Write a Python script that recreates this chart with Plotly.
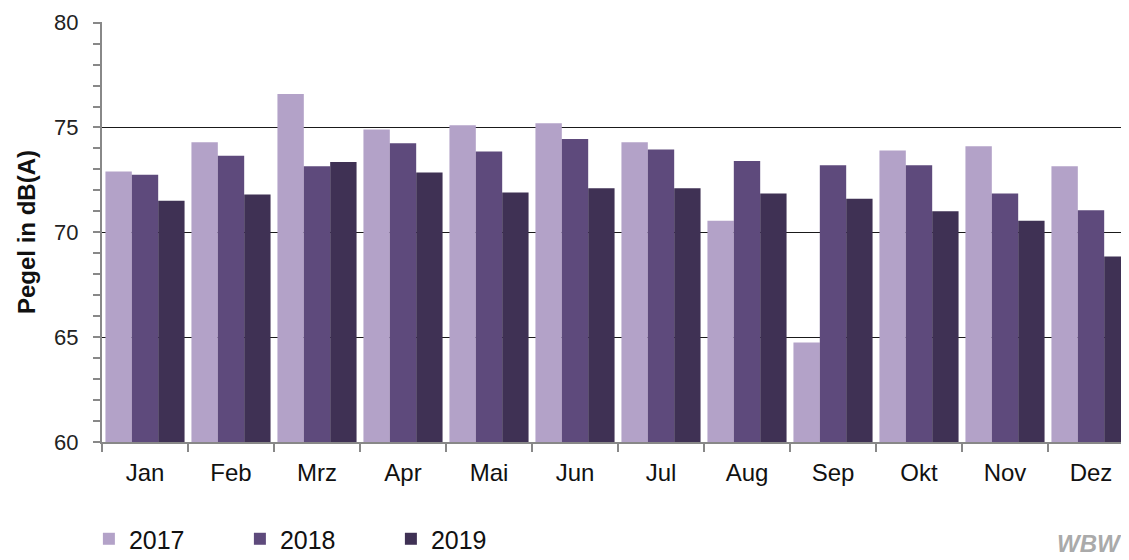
import plotly.graph_objects as go

months = ["Jan", "Feb", "Mrz", "Apr", "Mai", "Jun", "Jul", "Aug", "Sep", "Okt", "Nov", "Dez"]
v2017 = [72.9, 74.3, 76.6, 74.9, 75.1, 75.2, 74.3, 70.55, 64.75, 73.9, 74.1, 73.15]
v2018 = [72.75, 73.65, 73.15, 74.25, 73.85, 74.45, 73.95, 73.4, 73.2, 73.2, 71.85, 71.05]
v2019 = [71.5, 71.8, 73.35, 72.85, 71.9, 72.1, 72.1, 71.85, 71.6, 71.0, 70.55, 68.85]
series = [("2017", v2017, "#B3A2C8"), ("2018", v2018, "#5E4A7C"), ("2019", v2019, "#3F3154")]

fig = go.Figure()
for name, vals, col in series:
    fig.add_trace(go.Bar(x=months, y=vals, name=name, marker=dict(color=col, line=dict(width=0))))

font = "Liberation Sans, Arial, sans-serif"
fig.update_layout(
    width=1129, height=560,
    margin=dict(l=94, r=3, t=14, b=126, autoexpand=False),
    paper_bgcolor="white", plot_bgcolor="white",
    barmode="group", bargap=0.08, bargroupgap=0,
    font=dict(family=font, size=22, color="#222"),
    showlegend=True,
    legend=dict(orientation="h", x=-0.0127, xanchor="left", y=-0.231, yanchor="middle",
                font=dict(size=25, color="#111"), entrywidth=106, entrywidthmode="pixels",
                itemwidth=30, traceorder="normal"),
    xaxis=dict(showline=True, linecolor="#888", linewidth=2, ticks="outside", tickson="boundaries",
               ticklen=8, tickcolor="#888", tickwidth=2, tickfont=dict(size=24, color="#111"),
               ticklabelstandoff=8, showgrid=False, automargin=False),
    yaxis=dict(range=[60, 80.03], tickmode="array", tickvals=[60, 65, 70, 75, 80],
               showline=True, linecolor="#888", linewidth=2,
               ticks="outside", ticklen=7, tickcolor="#888", tickwidth=2,
               tickfont=dict(size=22, color="#222"), ticklabelstandoff=10, automargin=False,
               ticklabeloverflow="allow",
               showgrid=True, gridcolor="#1a1a1a", gridwidth=1, zeroline=False,
               minor=dict(tickmode="linear", tick0=60, dtick=1, ticks="outside", ticklen=7,
                          tickcolor="#888", tickwidth=2, showgrid=False),
               title=dict(text="<b>Pegel in dB(A)</b>", font=dict(size=24, color="#111"), standoff=12)),
)
fig.add_annotation(text="<b><i>WBW</i></b>", xref="paper", yref="paper", x=1.0, y=0,
                   xanchor="right", yanchor="bottom", showarrow=False, yshift=-117, xshift=-10,
                   font=dict(size=24, color="#aaa", family=font))
fig.write_html("out.html")
